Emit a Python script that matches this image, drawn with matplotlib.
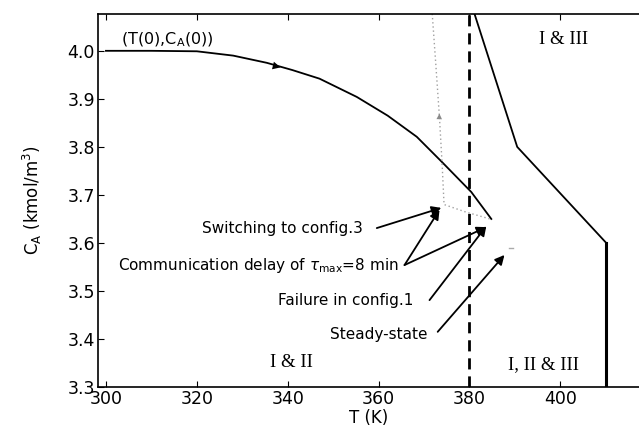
import matplotlib
matplotlib.use("Agg")
import matplotlib.pyplot as plt

plt.rcParams['font.family'] = ['DejaVu Sans']

# Closed-loop trajectory (T, C_A)
traj_T = [300.0, 310.0, 320.0, 328.0, 335.4, 341.0, 347.0, 355.2, 362.0, 368.4, 374.1, 380.4, 384.8]
traj_C = [4.000, 4.000, 3.999, 3.990, 3.975, 3.960, 3.942, 3.904, 3.865, 3.821, 3.767, 3.706, 3.650]

# Dotted trajectory after switching to configuration 3
dot_T = [371.8, 372.6, 373.4, 374.0, 374.4, 379.0, 384.5]
dot_C = [4.077, 3.970, 3.860, 3.760, 3.680, 3.665, 3.650]

# Stability region boundary of configuration (I & III)
bnd_T = [381.1, 390.5, 410.1, 410.1]
bnd_C = [4.077, 3.800, 3.600, 3.300]

# Failure/limit temperature (dashed)
T_dashed = 380.0

# Steady state
ss_T, ss_C = 389.2, 3.590

xticks = [300, 320, 340, 360, 380, 400]
yticks = [3.3, 3.4, 3.5, 3.6, 3.7, 3.8, 3.9, 4.0]

fig = plt.figure(figsize=(6.39, 4.32), dpi=100)
ax = fig.add_axes([0.153, 0.104, 0.847, 0.864])

ax.plot(traj_T, traj_C, color='black', lw=1.3)
ax.plot(dot_T, dot_C, color='#a0a0a0', lw=1.0, ls=(0, (1, 2)))
ax.plot(bnd_T[:3], bnd_C[:3], color='black', lw=1.3)
ax.plot(bnd_T[2:], bnd_C[2:], color='black', lw=2.2)
ax.axvline(T_dashed, color='black', lw=2.0, ls=(0, (4, 2.5)))
ax.plot([ss_T - 0.4, ss_T + 0.4], [ss_C, ss_C], color='#aaaaaa', lw=1.0)

# direction arrows on trajectories
ax.annotate('', xy=(339.0, 3.964), xytext=(336.5, 3.970),
            arrowprops=dict(arrowstyle='-|>', color='black', lw=0, mutation_scale=14))
ax.annotate('', xy=(373.4, 3.875), xytext=(373.3, 3.845),
            arrowprops=dict(arrowstyle='-|>', color='#8a8a8a', lw=0, mutation_scale=10))

ax.set_xlim(298.2, 417.3)
ax.set_ylim(3.3, 4.077)
ax.set_xticks(xticks)
ax.set_yticks(yticks)
ax.set_xticklabels([str(t) for t in xticks])
ax.set_yticklabels([f"{t:.1f}" for t in yticks])
ax.tick_params(direction='in', top=True, right=False, labelsize=12.5, length=4, pad=2)
ax.spines['right'].set_visible(False)
for s in ['left', 'bottom', 'top']:
    ax.spines[s].set_linewidth(1.2)

ax.set_xlabel('T (K)', fontsize=12, labelpad=1)
ax.set_ylabel(r'C$_\mathregular{A}$ (kmol/m$^\mathregular{3}$)', fontsize=12, labelpad=17)

serif = 'Liberation Serif'
ax.text(303.3, 4.023, r'(T(0),C$_\mathregular{A}$(0))', fontsize=11.5, ha='left', va='center')
ax.text(395.4, 4.023, 'I & III', fontsize=13.5, family=serif, ha='left', va='center')
ax.text(336.0, 3.352, 'I & II', fontsize=13.5, family=serif, ha='left', va='center')
ax.text(388.4, 3.346, 'I, II & III', fontsize=13.5, family=serif, ha='left', va='center')

fs = 11
ax.text(321.1, 3.631, 'Switching to config.3', fontsize=fs, ha='left', va='center')
ax.text(302.6, 3.554, r'Communication delay of $\tau_{\mathregular{max}}$=8 min', fontsize=fs,
        ha='left', va='center')
ax.text(337.8, 3.481, 'Failure in config.1', fontsize=fs, ha='left', va='center')
ax.text(349.2, 3.410, 'Steady-state', fontsize=fs, ha='left', va='center')

ap = dict(arrowstyle='-|>', color='black', lw=1.3, mutation_scale=14, shrinkA=0, shrinkB=0)
arrows = [((359.6, 3.631), (373.8, 3.673)),
          ((365.7, 3.554), (373.4, 3.669)),
          ((365.7, 3.554), (383.7, 3.633)),
          ((371.2, 3.481), (383.7, 3.635)),
          ((373.0, 3.415), (387.7, 3.575))]
for start, end in arrows:
    ax.annotate('', xy=end, xytext=start, arrowprops=ap)

fig.savefig('out.png', dpi=100)
